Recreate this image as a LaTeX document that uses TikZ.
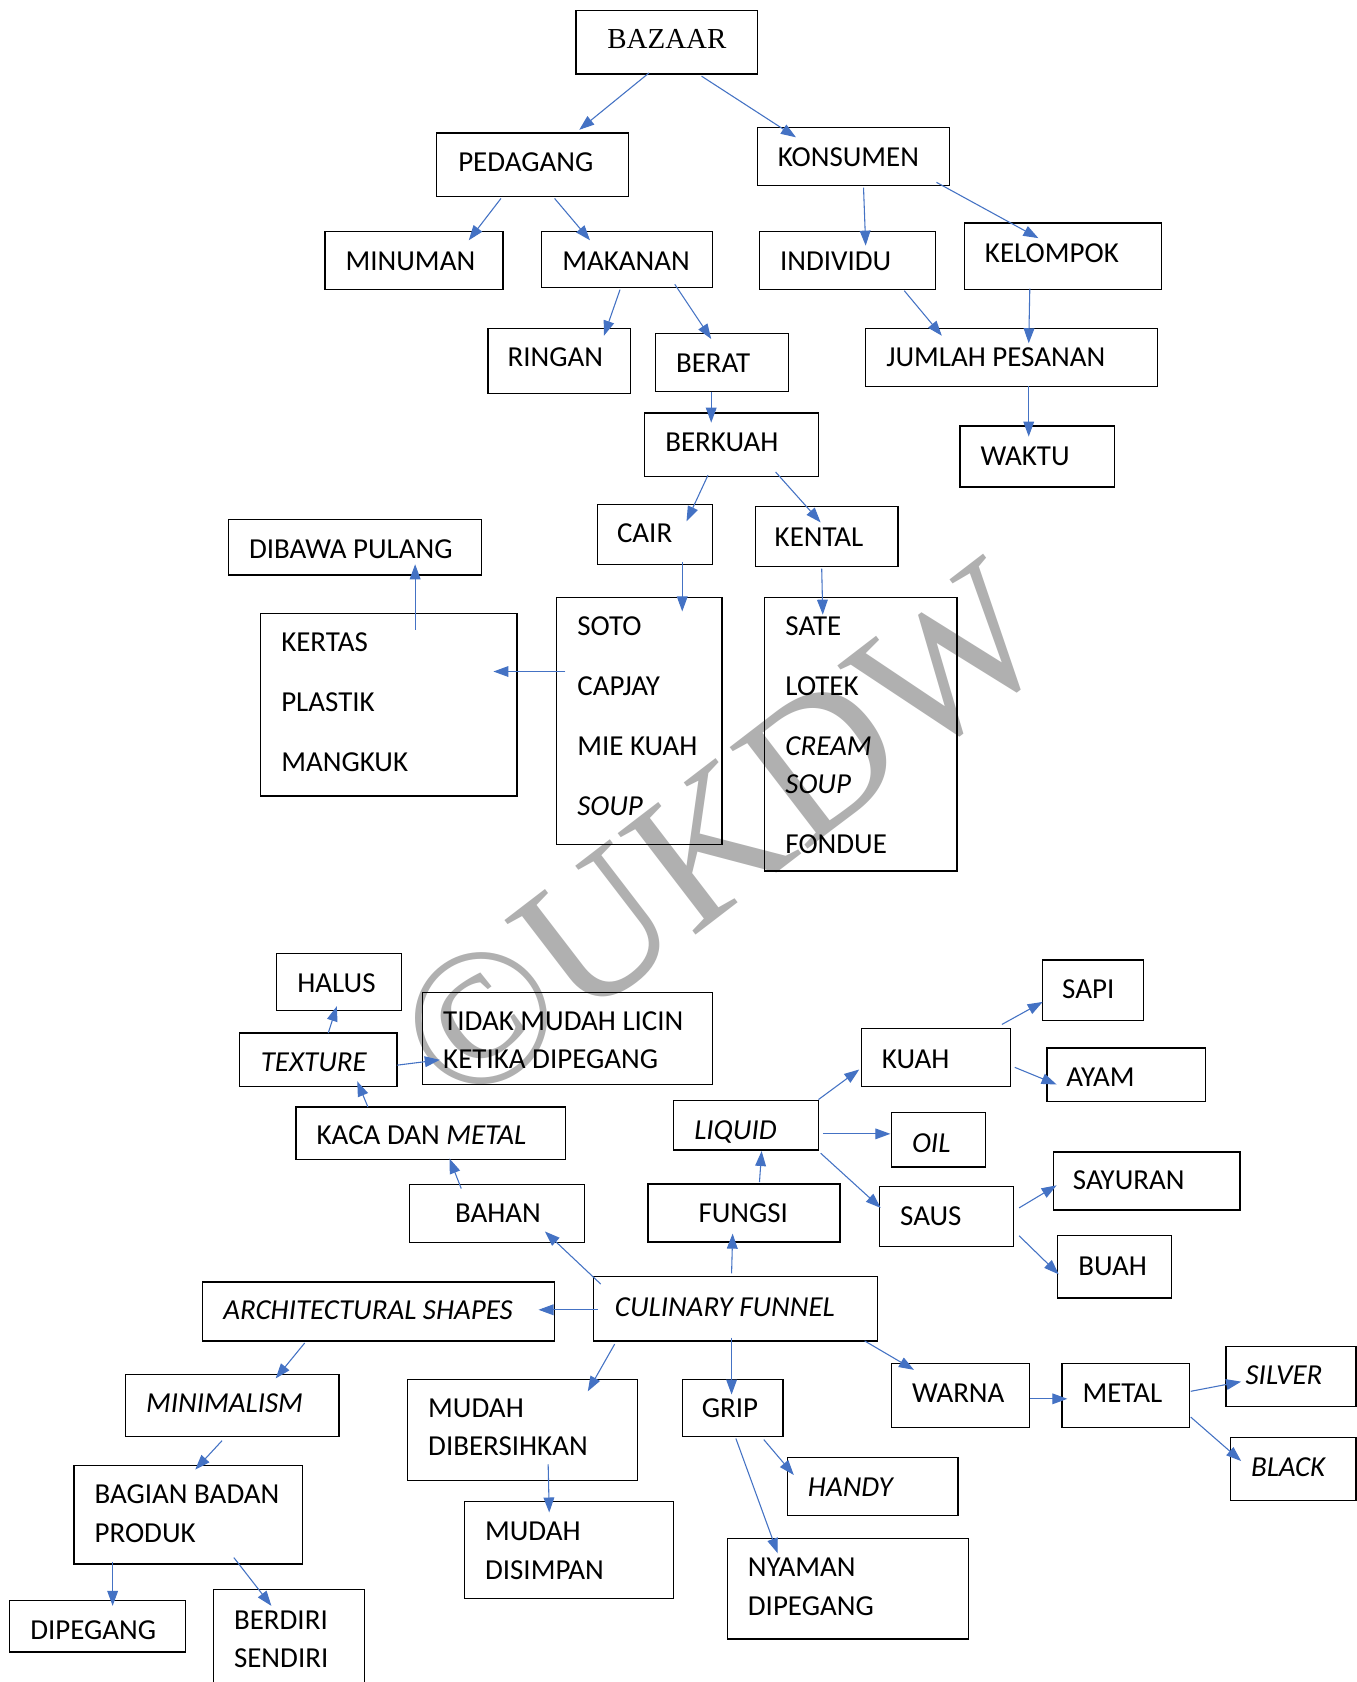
\documentclass[tikz,border=0pt]{standalone}
\usepackage{fontspec}
\setmainfont{Carlito}
\newfontfamily\tmsfont{Liberation Serif}
\usetikzlibrary{arrows.meta,fit}
\definecolor{arrblue}{HTML}{4472C4}
\definecolor{wmgray}{HTML}{B0B0B0}
\tikzset{
  box/.style={draw=black, line width=1.2pt, inner sep=0pt, fill=none},
  txt/.style={anchor=base west, inner sep=0pt, font=\fontsize{27}{32}\selectfont},
  arr/.style={draw=arrblue, line width=1pt, -{Triangle[length=14pt,width=10pt]}},
}
\newcommand\bx[5]{\node[box, fit={(#2,#3) (#4,#5)}] (#1) {};}
\newcommand\ar[4]{\draw[arr] ([shift={(#2)}]#1.center) -- ([shift={(#4)}]#3.center);}
\begin{document}
\begin{tikzpicture}[x=1pt,y=-1pt]
\useasboundingbox (0,0) rectangle (1265,1568);
\clip (0,0) rectangle (1265,1568);
\fill[white] (0,0) rectangle (1265,1568);
% watermark
\node[rotate=37.5, text=wmgray, inner sep=0pt, font=\tmsfont\fontsize{182}{182}\selectfont] (wm) at (674,778) {©UKDW};
% boxes
\bx{bazaar}{537}{10}{706}{69}
\bx{ped}{407}{124}{586}{183}
\bx{kon}{706}{119}{885}{173}
\bx{min}{303}{216}{469}{270}
\bx{mak}{505}{216}{664}{268}
\bx{ind}{708}{216}{872}{270}
\bx{kel}{899}{208}{1083}{270}
\bx{rin}{455}{306}{588}{367}
\bx{ber}{611}{311}{735}{365}
\bx{jum}{807}{306}{1079}{360}
\bx{berk}{601}{385}{763}{444}
\bx{wak}{895}{397}{1039}{454}
\bx{cair}{557}{470}{664}{526}
\bx{ken}{704}{472}{837}{528}
\bx{dib}{213}{484}{449}{536}
\bx{ker}{243}{572}{482}{742}
\bx{soto}{519}{557}{673}{787}
\bx{sate}{713}{557}{892}{812}
\bx{halus}{258}{889}{374}{942}
\bx{tex}{223}{963}{370}{1013}
\bx{tidak}{394}{925}{664}{1011}
\bx{kaca}{276}{1032}{527}{1081}
\bx{bahan}{382}{1104}{545}{1158}
\node[box, line width=2pt, fit={(604,1104) (783,1158)}] (fungsi) {};
\bx{liquid}{628}{1026}{763}{1072}
\bx{kuah}{803}{959}{942}{1013}
\bx{sapi}{972}{895}{1066}{951}
\bx{ayam}{976}{977}{1124}{1027}
\bx{oil}{831}{1037}{919}{1088}
\bx{saus}{820}{1106}{945}{1162}
\bx{sayur}{982}{1074}{1156}{1128}
\bx{buah}{986}{1152}{1092}{1210}
\bx{cf}{553}{1190}{818}{1250}
\bx{arch}{189}{1195}{517}{1250}
\bx{mini}{117}{1281}{316}{1339}
\bx{mdb}{380}{1286}{594}{1380}
\bx{grip}{636}{1286}{730}{1339}
\bx{warna}{831}{1271}{960}{1331}
\bx{metal}{990}{1271}{1109}{1331}
\bx{silver}{1143}{1255}{1264}{1311}
\bx{black}{1147}{1340}{1264}{1399}
\bx{handy}{734}{1359}{893}{1413}
\bx{bag}{69}{1366}{282}{1458}
\bx{mds}{433}{1400}{628}{1490}
\bx{nyam}{678}{1434}{903}{1528}
\bx{dip}{9}{1492}{173}{1540}
\bx{berd}{199}{1482}{340}{1600}
% texts
\node[txt, font=\tmsfont\fontsize{27}{32}\selectfont] (t-bazaar) at (566,45) {BAZAAR};
\node[txt] (t-ped) at (427,160) {PEDAGANG};
\node[txt] (t-kon) at (725,155) {KONSUMEN};
\node[txt] (t-min) at (322,252) {MINUMAN};
\node[txt] (t-mak) at (524,252) {MAKANAN};
\node[txt] (t-ind) at (727,252) {INDIVIDU};
\node[txt] (t-kel) at (918,245) {KELOMPOK};
\node[txt] (t-rin) at (473,342) {RINGAN};
\node[txt] (t-ber) at (630,347) {BERAT};
\node[txt] (t-jum) at (826,342) {JUMLAH PESANAN};
\node[txt] (t-berk) at (620,421) {BERKUAH};
\node[txt] (t-wak) at (914,434) {WAKTU};
\node[txt] (t-cair) at (575,506) {CAIR};
\node[txt] (t-ken) at (722,509) {KENTAL};
\node[txt] (t-dib) at (232,521) {DIBAWA PULANG};
\node[txt] (t-ker1) at (262,607) {KERTAS};
\node[txt] (t-ker2) at (262,663) {PLASTIK};
\node[txt] (t-ker3) at (262,719) {MANGKUK};
\node[txt] (t-soto1) at (538,592) {SOTO};
\node[txt] (t-soto2) at (538,648) {CAPJAY};
\node[txt] (t-soto3) at (538,704) {MIE KUAH};
\node[txt] (t-soto4) at (538,760) {\itshape SOUP};
\node[txt] (t-sate1) at (732,592) {SATE};
\node[txt] (t-sate2) at (732,648) {LOTEK};
\node[txt] (t-sate3) at (732,704) {\itshape CREAM};
\node[txt] (t-sate4) at (732,740) {\itshape SOUP};
\node[txt] (t-sate5) at (732,796) {FONDUE};
\node[txt] (t-halus) at (277,925) {HALUS};
\node[txt] (t-tex) at (243,999) {\itshape TEXTURE};
\node[txt] (t-tidak1) at (413,961) {TIDAK MUDAH LICIN};
\node[txt] (t-tidak2) at (413,996) {KETIKA DIPEGANG};
\node[txt] (t-kaca) at (295,1067) {KACA DAN \textit{METAL}};
\node[txt] (t-bahan) at (424,1140) {BAHAN};
\node[txt] (t-fungsi) at (651,1140) {FUNGSI};
\node[txt] (t-liquid) at (647,1062) {\itshape LIQUID};
\node[txt] (t-kuah) at (822,996) {KUAH};
\node[txt] (t-sapi) at (990,931) {SAPI};
\node[txt] (t-ayam) at (994,1013) {AYAM};
\node[txt] (t-oil) at (850,1074) {\itshape OIL};
\node[txt] (t-saus) at (839,1142) {SAUS};
\node[txt] (t-sayur) at (1000,1109) {SAYURAN};
\node[txt] (t-buah) at (1005,1189) {BUAH};
\node[txt] (t-cf) at (573,1227) {\itshape CULINARY FUNNEL};
\node[txt] (t-arch) at (208,1230) {\itshape ARCHITECTURAL SHAPES};
\node[txt] (t-mini) at (136,1317) {\itshape MINIMALISM};
\node[txt] (t-mdb1) at (399,1321) {MUDAH};
\node[txt] (t-mdb2) at (399,1357) {DIBERSIHKAN};
\node[txt] (t-grip) at (654,1321) {GRIP};
\node[txt] (t-warna) at (850,1307) {WARNA};
\node[txt] (t-metal) at (1009,1307) {METAL};
\node[txt] (t-silver) at (1161,1291) {\itshape SILVER};
\node[txt] (t-black) at (1166,1376) {\itshape BLACK};
\node[txt] (t-handy) at (753,1395) {\itshape HANDY};
\node[txt] (t-bag1) at (88,1402) {BAGIAN BADAN};
\node[txt] (t-bag2) at (88,1438) {PRODUK};
\node[txt] (t-mds1) at (452,1436) {MUDAH};
\node[txt] (t-mds2) at (452,1472) {DISIMPAN};
\node[txt] (t-nyam1) at (697,1470) {NYAMAN};
\node[txt] (t-nyam2) at (697,1506) {DIPEGANG};
\node[txt] (t-dip) at (28,1528) {DIPEGANG};
\node[txt] (t-berd1) at (218,1519) {BERDIRI};
\node[txt] (t-berd2) at (218,1554) {SENDIRI};
% connectors
\ar{bazaar}{-16.5,28.5}{ped}{43.5,-32.5}
\ar{bazaar}{32.5,31.5}{kon}{-53.5,-18}
\ar{ped}{-29.5,31.5}{min}{51,-19}
\ar{ped}{20.5,31.5}{mak}{-34.5,-18}
\ar{kon}{9.5,29}{ind}{17,-14}
\ar{kon}{77.5,24}{kel}{-23,-17}
\ar{mak}{-6.5,28}{rin}{41.5,-23.5}
\ar{mak}{44.5,23}{ber}{-10,-22}
\ar{ind}{53,28}{jum}{-65,-20}
\ar{kel}{-31,30}{jum}{16,-13}
\ar{ber}{-10,27}{berk}{-19,-20.5}
\ar{jum}{16,27}{wak}{-8,-18.5}
\ar{berk}{-22,28.5}{cair}{29.5,-12}
\ar{berk}{41,25.5}{ken}{-5.5,-13}
\ar{cair}{25.5,26}{soto}{40,-102}
\ar{ken}{-4.5,30}{sate}{-35.5,-111.5}
\ar{ker}{24.5,-70}{dib}{56,16}
\ar{soto}{-69,-46}{ker}{97.5,-31}
\ar{tex}{9.5,-25}{halus}{-2,22.5}
\ar{tex}{73.5,5}{tidak}{-119,20}
\ar{kaca}{-58.5,-24.5}{tex}{36.5,20}
\ar{bahan}{-33.5,-23}{kaca}{17.5,23.5}
\ar{cf}{-125.5,-23}{bahan}{44.5,17}
\ar{cf}{-3.5,-33}{fungsi}{-10.5,19}
\ar{fungsi}{14.5,-29}{liquid}{14.5,24}
\ar{liquid}{67.5,-24}{kuah}{-71.5,11}
\ar{liquid}{71.5,8}{oil}{-45,-5.5}
\ar{liquid}{69.5,26}{saus}{-61.5,-8}
\ar{kuah}{61.5,-31}{sapi}{-47,11}
\ar{kuah}{73.5,9}{ayam}{-65,9}
\ar{saus}{67.5,-8}{sayur}{-84,4}
\ar{saus}{67.5,18}{buah}{-52,7}
\ar{cf}{-128.5,1}{arch}{149,-1.5}
\ar{cf}{-112.5,33}{mdb}{61,-36}
\ar{cf}{-3.5,27}{grip}{-1,-12.5}
\ar{cf}{120.5,30}{warna}{-43.5,-24}
\ar{warna}{64.5,3}{metal}{-54.5,3}
\ar{metal}{60.5,-4}{silver}{-46.5,5}
\ar{metal}{60.5,20}{black}{-48.5,-7.5}
\ar{arch}{-69,29.5}{mini}{40.5,-25}
\ar{mini}{-9.5,33}{bag}{6.5,-42}
\ar{bag}{-70.5,44}{dip}{14,-19}
\ar{bag}{42.5,40}{berd}{-16.5,-44}
\ar{mdb}{24,32}{mds}{-18.5,-35}
\ar{grip}{29,29.5}{handy}{-73.5,-11}
\ar{grip}{3,28.5}{nyam}{-65.5,-33}
\end{tikzpicture}
\end{document}
